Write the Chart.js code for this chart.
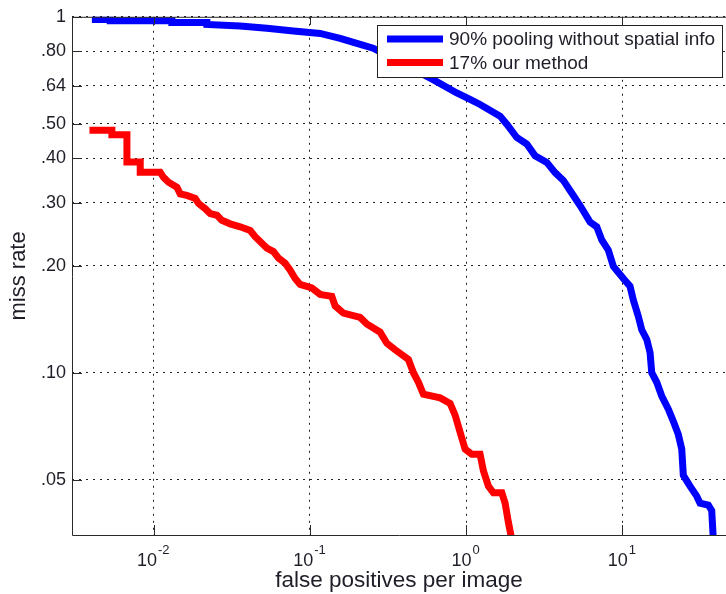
<!DOCTYPE html>
<html>
<head>
<meta charset="utf-8">
<script src="https://cdn.jsdelivr.net/npm/chart.js@4"></script>
<style>
html,body{margin:0;padding:0;background:#fff;overflow:hidden;}
#wrap{width:726px;height:594px;position:relative;}
</style>
</head>
<body>
<div id="wrap"><canvas id="c" width="726" height="594"></canvas></div>
<script>
// ---- data ----
const seriesLabels = ['90% pooling without spatial info', '17% our method'];
const xTickValues = [0.01, 0.1, 1, 10];
const xTickExponents = ['-2', '-1', '0', '1'];
const yTickValues = [0.05, 0.10, 0.20, 0.30, 0.40, 0.50, 0.64, 0.80, 1];
const yTickLabels = ['.05', '.10', '.20', '.30', '.40', '.50', '.64', '.80', '1'];
const xTitle = 'false positives per image';
const yTitle = 'miss rate';

const blueFppi = [0.00402, 0.00527, 0.00527, 0.01307, 0.01307, 0.02189, 0.02189, 0.03575, 0.05301, 0.07839, 0.1162, 0.1560, 0.1996, 0.2538, 0.6141, 0.8707, 1.059, 1.227, 1.648, 1.819, 2.107, 2.443, 2.760, 3.280, 3.706, 4.187, 4.621, 5.355, 6.205, 6.848, 7.373, 8.124, 8.746, 10.13, 11.18, 11.74, 12.64, 13.29, 14.31, 15.02, 15.40, 16.58, 17.84, 19.67, 21.17, 22.79, 23.96, 24.53, 27.07, 29.89, 31.38, 35.45, 37.27, 38.16];
const blueMiss = [0.983, 0.983, 0.975, 0.975, 0.964, 0.964, 0.952, 0.942, 0.928, 0.912, 0.898, 0.870, 0.842, 0.816, 0.666, 0.611, 0.586, 0.567, 0.526, 0.499, 0.458, 0.439, 0.407, 0.390, 0.365, 0.347, 0.325, 0.295, 0.265, 0.257, 0.236, 0.221, 0.199, 0.184, 0.175, 0.160, 0.144, 0.132, 0.124, 0.114, 0.100, 0.094, 0.086, 0.079, 0.073, 0.067, 0.061, 0.0515, 0.048, 0.045, 0.043, 0.0425, 0.041, 0.034];

const redFppi = [0.00388, 0.00540, 0.00540, 0.00674, 0.00674, 0.00820, 0.00820, 0.01100, 0.01155, 0.01244, 0.01408, 0.01478, 0.01631, 0.01843, 0.01935, 0.02136, 0.02299, 0.02538, 0.02730, 0.03086, 0.03575, 0.04144, 0.04461, 0.04924, 0.05301, 0.05841, 0.06287, 0.06940, 0.07469, 0.08038, 0.08657, 0.1028, 0.1162, 0.1380, 0.1449, 0.1638, 0.2096, 0.2312, 0.2812, 0.3105, 0.3509, 0.4268, 0.4595, 0.4946, 0.5324, 0.6808, 0.7889, 0.8492, 0.9142, 0.9840, 1.086, 1.227, 1.289, 1.387, 1.493, 1.690, 1.774, 1.862, 1.957];
const redMiss = [0.480, 0.480, 0.466, 0.466, 0.391, 0.391, 0.366, 0.366, 0.354, 0.343, 0.332, 0.318, 0.315, 0.309, 0.299, 0.289, 0.280, 0.277, 0.268, 0.262, 0.257, 0.251, 0.241, 0.231, 0.224, 0.219, 0.210, 0.203, 0.194, 0.184, 0.177, 0.173, 0.166, 0.164, 0.154, 0.147, 0.143, 0.137, 0.130, 0.121, 0.116, 0.109, 0.100, 0.094, 0.087, 0.085, 0.082, 0.076, 0.068, 0.061, 0.059, 0.059, 0.053, 0.048, 0.046, 0.046, 0.043, 0.038, 0.034];

const seriesColors = ['#0000ff', '#ff0000'];

// ---- helpers ----
const toPoints = (xs, ys) => xs.map((x, i) => ({x: x, y: ys[i]}));
const FONT = '"Liberation Sans", Arial, Helvetica, sans-serif';
const TEXT = '#1e1e28';

const frameAndLegend = {
  id: 'frameAndLegend',
  afterDatasetsDraw(chart) {
    const {ctx, chartArea: a, scales: {x, y}} = chart;
    ctx.save();
    ctx.strokeStyle = '#2a2a2a';
    ctx.lineWidth = 1;
    ctx.setLineDash([]);
    // box (left, top, bottom)
    ctx.beginPath();
    ctx.moveTo(a.right + 1, a.top + 0.5);
    ctx.lineTo(a.left + 0.5, a.top + 0.5);
    ctx.lineTo(a.left + 0.5, a.bottom + 0.5);
    ctx.lineTo(a.right + 1, a.bottom + 0.5);
    ctx.stroke();
    // inward ticks
    ctx.beginPath();
    yTickValues.forEach(v => {
      const py = Math.round(y.getPixelForValue(v)) + 0.5;
      ctx.moveTo(a.left, py); ctx.lineTo(a.left + 10, py);
    });
    xTickValues.forEach(v => {
      const px = Math.round(x.getPixelForValue(v)) + 0.5;
      ctx.moveTo(px, a.bottom); ctx.lineTo(px, a.bottom - 10);
      ctx.moveTo(px, a.top); ctx.lineTo(px, a.top + 8);
    });
    ctx.stroke();

    // x tick labels with superscript exponents
    ctx.fillStyle = TEXT;
    ctx.textBaseline = 'alphabetic';
    ctx.textAlign = 'left';
    xTickValues.forEach((v, i) => {
      const px = x.getPixelForValue(v);
      ctx.font = '18px ' + FONT;
      const wb = ctx.measureText('10').width;
      ctx.font = '13px ' + FONT;
      const we = ctx.measureText(xTickExponents[i]).width;
      const left = px - (wb + we) / 2 - 1;
      ctx.font = '18px ' + FONT;
      ctx.fillText('10', left, 566);
      ctx.font = '13px ' + FONT;
      ctx.fillText(xTickExponents[i], left + wb + 1, 554);
    });

    // legend
    const lx = 377.5, ly = 25.5, lw = 345, lh = 52;
    ctx.fillStyle = '#ffffff';
    ctx.fillRect(lx, ly, lw, lh);
    ctx.strokeStyle = '#222';
    ctx.strokeRect(lx, ly, lw, lh);
    chart.data.datasets.forEach((ds, i) => {
      const cy = 39 + i * 23.5;
      ctx.strokeStyle = ds.borderColor;
      ctx.lineWidth = 7;
      ctx.lineCap = 'butt';
      ctx.beginPath();
      ctx.moveTo(387, cy); ctx.lineTo(443, cy);
      ctx.stroke();
      ctx.fillStyle = TEXT;
      ctx.font = '19px ' + FONT;
      ctx.textBaseline = 'middle';
      ctx.fillText(ds.label, 449, cy + 1);
    });
    ctx.restore();
  }
};

new Chart(document.getElementById('c'), {
  type: 'scatter',
  data: {
    datasets: [
      {label: seriesLabels[0], data: toPoints(blueFppi, blueMiss), borderColor: seriesColors[0], backgroundColor: seriesColors[0]},
      {label: seriesLabels[1], data: toPoints(redFppi, redMiss), borderColor: seriesColors[1], backgroundColor: seriesColors[1]}
    ]
  },
  options: {
    responsive: false,
    animation: false,
    devicePixelRatio: 1,
    layout: {padding: {top: 15, left: 0, right: 0, bottom: 0}},
    datasets: {
      scatter: {
        showLine: true, borderWidth: 7, pointRadius: 0, pointHoverRadius: 0,
        tension: 0, clip: 0, borderJoinStyle: 'miter', borderCapStyle: 'butt'
      }
    },
    plugins: {legend: {display: false}, tooltip: {enabled: false}},
    scales: {
      x: {
        type: 'logarithmic', min: 0.003, max: 46, bounds: 'data',
        afterBuildTicks: s => { s.ticks = xTickValues.map(v => ({value: v})); },
        afterFit: s => { s.height = 59; },
        ticks: {display: false},
        grid: {color: '#222', lineWidth: 1, drawTicks: false},
        border: {display: false, dash: [2, 5]},
        title: {display: true, text: xTitle, color: TEXT, font: {family: FONT, size: 22.5}, padding: {top: 0, bottom: 0}}
      },
      y: {
        type: 'logarithmic', min: 0.035, max: 1, bounds: 'data',
        afterBuildTicks: s => { s.ticks = yTickValues.map(v => ({value: v})); },
        afterFit: s => { s.width = 72; },
        ticks: {
          color: TEXT, font: {family: FONT, size: 18}, padding: 6, autoSkip: false,
          callback: (v) => { const i = yTickValues.indexOf(v); return i >= 0 ? yTickLabels[i] : ''; }
        },
        grid: {color: '#222', lineWidth: 1, drawTicks: false},
        border: {display: false, dash: [2, 5]},
        title: {display: true, text: yTitle, color: TEXT, font: {family: FONT, size: 22}, padding: {top: 6, bottom: 0}}
      }
    }
  },
  plugins: [frameAndLegend]
});
</script>
</body>
</html>
